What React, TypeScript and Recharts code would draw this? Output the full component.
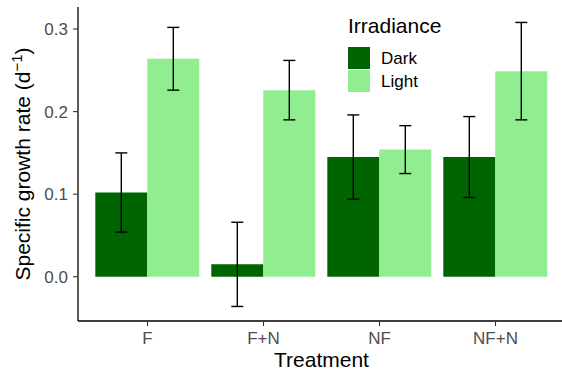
import React from 'react';
import { BarChart, Bar, XAxis, YAxis, ErrorBar, Legend } from 'recharts';

const categories = ['F', 'F+N', 'NF', 'NF+N'];
const darkValues = [0.102, 0.015, 0.145, 0.145];
const lightValues = [0.264, 0.226, 0.154, 0.249];
const darkErrors = [0.048, 0.051, 0.051, 0.049];
const lightErrors = [0.038, 0.036, 0.029, 0.059];
const yTicks = [0, 0.1, 0.2, 0.3];

const DARK = '#006400';
const LIGHT = '#90EE90';
const FONT = '"Liberation Sans", Arial, Helvetica, sans-serif';

const data = categories.map((c, i) => ({
  treatment: c,
  Dark: darkValues[i],
  Light: lightValues[i],
  darkErr: darkErrors[i],
  lightErr: lightErrors[i],
}));

const renderYLabel = (props: any) => {
  const vb = props.viewBox || { x: 0, y: 7, width: 78, height: 314 };
  const cy = vb.y + vb.height / 2;
  const cx = 30;
  return (
    <text
      x={cx}
      y={cy}
      transform={`rotate(-90, ${cx}, ${cy})`}
      textAnchor="middle"
      fontFamily={FONT}
      fontSize={21}
      fill="#000"
    >
      Specific growth rate (d
      <tspan dy={-8} fontSize={15}>−1</tspan>
      <tspan dy={8}>)</tspan>
    </text>
  );
};

const renderXLabel = (props: any) => {
  const vb = props.viewBox || { x: 78, y: 321, width: 487, height: 53 };
  return (
    <text
      x={vb.x + vb.width / 2}
      y={vb.y + vb.height - 7}
      textAnchor="middle"
      fontFamily={FONT}
      fontSize={21}
      fill="#000"
    >
      Treatment
    </text>
  );
};

const renderLegend = (props: any) => {
  const payload = props.payload || [];
  return (
    <svg width={130} height={95} style={{ display: 'block' }}>
      <text x={0} y={33} fontFamily={FONT} fontSize={21} fill="#000">
        Irradiance
      </text>
      {payload.map((p: any, i: number) => (
        <g key={p.value}>
          <rect x={0} y={47 + i * 23} width={22} height={22} fill={p.color} />
          <text
            x={33}
            y={47 + i * 23 + 11}
            dy="0.36em"
            fontFamily={FONT}
            fontSize={17}
            fill="#000"
          >
            {p.value}
          </text>
        </g>
      ))}
    </svg>
  );
};

export default function App() {
  return (
    <div
      style={{
        position: 'absolute',
        left: 0,
        top: 0,
        width: 562,
        height: 374,
        overflow: 'hidden',
        background: '#fff',
      }}
    >
      <BarChart
        width={565}
        height={374}
        data={data}
        margin={{ top: 7, right: 0, bottom: 0, left: 0 }}
        barCategoryGap="5%"
        barGap={0}
      >
        <XAxis
          dataKey="treatment"
          height={53}
          padding={{ left: 11.5, right: 11.5 }}
          axisLine={{ stroke: '#000', strokeWidth: 1.3 }}
          tickLine={{ stroke: '#333', strokeWidth: 1.1 }}
          tickSize={5}
          tickMargin={6}
          tick={{ fill: '#4D4D4D', fontSize: 17, fontFamily: FONT }}
          label={renderXLabel}
        />
        <YAxis
          width={78}
          domain={[-0.0536, 0.3267]}
          ticks={yTicks}
          allowDataOverflow
          tickFormatter={(v: number) => v.toFixed(1)}
          axisLine={{ stroke: '#000', strokeWidth: 1.3 }}
          tickLine={{ stroke: '#333', strokeWidth: 1.1 }}
          tickSize={5}
          tickMargin={5}
          tick={{ fill: '#4D4D4D', fontSize: 17, fontFamily: FONT }}
          label={renderYLabel}
        />
        <Legend
          layout="vertical"
          align="center"
          verticalAlign="middle"
          content={renderLegend}
          wrapperStyle={{ left: 348, top: 0, width: 130, height: 95 }}
        />
        <Bar dataKey="Dark" name="Dark" fill={DARK} isAnimationActive={false}>
          <ErrorBar
            dataKey="darkErr"
            width={6}
            stroke="#000"
            strokeWidth={1.4}
            direction="y"
            isAnimationActive={false}
          />
        </Bar>
        <Bar dataKey="Light" name="Light" fill={LIGHT} isAnimationActive={false}>
          <ErrorBar
            dataKey="lightErr"
            width={6}
            stroke="#000"
            strokeWidth={1.4}
            direction="y"
            isAnimationActive={false}
          />
        </Bar>
      </BarChart>
    </div>
  );
}
